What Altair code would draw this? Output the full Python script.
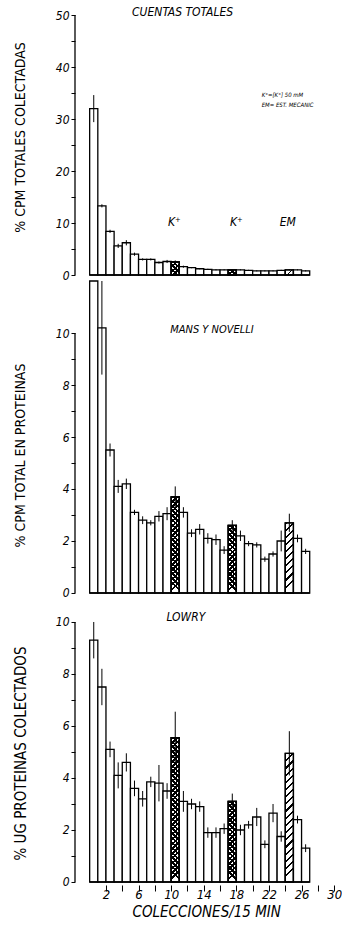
import altair as alt
import pandas as pd

# ---------------- data ----------------
collections = list(range(1, 28))

top_vals = [32.0, 13.3, 8.4, 5.6, 6.2, 4.0, 3.0, 3.0, 2.4, 2.6, 2.5, 1.6, 1.4, 1.2,
            1.1, 1.0, 1.0, 1.0, 1.0, 0.9, 0.8, 0.8, 0.8, 0.9, 1.0, 1.0, 0.8]
top_err = [2.6, 0.3, 0.3, 0.4, 0.5, 0.3, 0.2, 0.2, 0.2, 0.3, 0.3, 0.2, 0.1, 0.1,
           0.1, 0.1, 0.1, 0.1, 0.1, 0.1, 0.1, 0.1, 0.1, 0.1, 0.1, 0.1, 0.1]

mid_vals = [12.0, 10.2, 5.5, 4.1, 4.2, 3.1, 2.8, 2.7, 2.95, 3.05, 3.7, 3.1, 2.3, 2.45,
            2.1, 2.05, 1.65, 2.6, 2.2, 1.9, 1.85, 1.3, 1.5, 2.0, 2.7, 2.1, 1.6]
mid_err = [0.0, 1.8, 0.25, 0.25, 0.2, 0.1, 0.15, 0.1, 0.2, 0.25, 0.4, 0.2, 0.15, 0.2,
           0.2, 0.2, 0.15, 0.2, 0.2, 0.1, 0.1, 0.1, 0.1, 0.4, 0.35, 0.15, 0.1]

bot_vals = [9.3, 7.5, 5.1, 4.1, 4.6, 3.6, 3.2, 3.85, 3.8, 3.5, 5.55, 3.1, 3.0, 2.9,
            1.9, 1.9, 2.05, 3.1, 2.0, 2.2, 2.5, 1.45, 2.65, 1.75, 4.95, 2.4, 1.3]
bot_err = [0.7, 0.7, 0.3, 0.5, 0.35, 0.3, 0.3, 0.2, 0.7, 0.3, 1.0, 0.4, 0.2, 0.2,
           0.2, 0.2, 0.2, 0.3, 0.2, 0.15, 0.35, 0.15, 0.35, 0.2, 0.85, 0.15, 0.15]

k_bars = [11, 18]      # K+ 50 mM (cross-hatched)
em_bar = [25]          # estimulo mecanico (striped)

top_ticks = [0, 5, 10, 15, 20, 25, 30, 35, 40, 45, 50]
prot_ticks = [0, 1, 2, 3, 4, 5, 6, 7, 8, 9, 10]
x_ticks = [2, 4, 6, 8, 10, 12, 14, 16, 18, 20, 22, 24, 26, 28, 30]

# ---------------- layout / style ----------------
FONT = "Liberation Sans Narrow, DejaVu Sans Condensed, Liberation Sans, sans-serif"
X_DOMAIN = [-1.8, 30.4]
X_PPU = 8.15
PLOT_W = (X_DOMAIN[1] - X_DOMAIN[0]) * X_PPU


def hatch(w, h, direction, period, duty):
    r = w / h
    n = max(2, round(h * (1 + r * r) / (period * 2 ** 0.5)))
    clear = "rgba(255,255,255,0)"
    stops = []
    for i in range(n):
        a, b, e = i / n, (i + duty) / n, (i + 1) / n
        stops += [{"offset": a, "color": "#000000"}, {"offset": b, "color": "#000000"},
                  {"offset": b, "color": clear}, {"offset": e, "color": clear}]
    if direction == "/":
        x1, y1, x2, y2 = 0, 0, r, 1
    else:
        x1, y1, x2, y2 = 1, 0, 1 - r, 1
    return {"gradient": "linear", "x1": x1, "y1": y1, "x2": x2, "y2": y2, "stops": stops}


def panel(vals, errs, height, ppu, ticks, major, ytitle, title_y, title_size,
          texts, show_x=False):
    df = pd.DataFrame({"c": collections, "v": vals, "e": errs})
    df["left"] = df.c - 1
    df["right"] = df.c
    df["mid"] = df.c - 0.5
    df["lo"] = df.v - df.e
    df["hi"] = df.v + df.e

    xscale = alt.Scale(domain=X_DOMAIN, nice=False, zero=False)
    yscale = alt.Scale(domain=[0, height / ppu], nice=False, zero=True)
    if show_x:
        xaxis = alt.Axis(values=x_ticks, labelExpr="(datum.value - 2) % 4 === 0 ? datum.label : ''",
                         domain=False, grid=False, tickSize=6, tickColor="black", offset=3,
                         labelPadding=-2, labelFont=FONT, labelFontSize=13, labelFontStyle="italic",
                         labelColor="black", title="COLECCIONES/15 MIN", titleFont=FONT,
                         titleFontSize=15, titleFontStyle="italic", titleFontWeight="normal",
                         titleColor="black", titlePadding=3)
    else:
        xaxis = None
    yaxis = alt.Axis(values=ticks, labelExpr=f"datum.value % {major} === 0 ? datum.label : ''",
                     domain=False, grid=False, tickSize=4, tickColor="black",
                     labelFont=FONT, labelFontSize=12, labelFontStyle="italic",
                     labelColor="black", labelPadding=2,
                     title=ytitle, titleX=-54, titleY=title_y, titleAngle=270,
                     titleAlign="center", titleBaseline="middle", titleFont=FONT,
                     titleFontSize=title_size, titleFontWeight="normal", titleColor="black")

    def X(f):
        return alt.X(f, type="quantitative", scale=xscale, axis=xaxis)

    def Y(f):
        return alt.Y(f, type="quantitative", scale=yscale, axis=yaxis)

    base = alt.Chart(df)
    layers = [base.mark_rect(fill="white", stroke="black", strokeWidth=1.3).encode(
        x=X("left"), x2="right", y=Y("v"), y2=alt.datum(0))]

    bw = X_PPU
    for k in k_bars:
        h = max(vals[k - 1] * ppu, 2)
        for d in ["/", "\\"]:
            layers.append(base.transform_filter(alt.datum.c == k).mark_rect(
                fill=hatch(bw, h, d, 3.4, 0.5), stroke="black", strokeWidth=1.3).encode(
                x=X("left"), x2="right", y=Y("v"), y2=alt.datum(0)))
    for k in em_bar:
        h = max(vals[k - 1] * ppu, 2)
        layers.append(base.transform_filter(alt.datum.c == k).mark_rect(
            fill=hatch(bw, h, "/", 5.0, 0.3), stroke="black", strokeWidth=1.3).encode(
            x=X("left"), x2="right", y=Y("v"), y2=alt.datum(0)))

    layers.append(base.transform_filter(alt.datum.e > 0).mark_rule(
        color="black", strokeWidth=1).encode(x=X("mid"), y=Y("lo"), y2="hi"))

    # axis line (0 to top tick) and baseline under the bars
    yl = pd.DataFrame({"a": [min(ticks)], "b": [max(ticks)]})
    layers.append(alt.Chart(yl).mark_rule(color="black", strokeWidth=1.3).encode(
        x=alt.value(0), y=Y("a"), y2="b"))
    bl = pd.DataFrame({"a": [min(collections) - 1], "b": [max(collections)], "y": [0]})
    layers.append(alt.Chart(bl).mark_rule(color="black", strokeWidth=1.5).encode(
        x=X("a"), x2="b", y=Y("y")))

    for (tx, ty, tt, fs, al) in texts:
        tdf = pd.DataFrame({"x": [tx], "y": [ty], "t": [tt]})
        layers.append(alt.Chart(tdf).mark_text(
            font=FONT, fontSize=fs, fontStyle="italic", color="black", align=al,
            baseline="middle").encode(x=X("x"), y=Y("y"), text="t:N"))

    return alt.layer(*layers).properties(width=PLOT_W, height=height)


top = panel(top_vals, top_err, 275, 5.2, top_ticks, 10, "% CPM TOTALES COLECTADAS", 137, 14,
            [(11.4, 50.6, "CUENTAS   TOTALES", 12, "center"),
             (10.4, 10.2, "K⁺", 12, "center"),
             (18.0, 10.2, "K⁺", 12, "center"),
             (24.3, 10.2, "EM", 12, "center"),
             (21.1, 34.6, "K⁺=[K⁺] 50 mM", 6, "left"),
             (21.1, 32.6, "EM= EST. MECANIC", 6, "left")])
mid = panel(mid_vals, mid_err, 318, 26.0, prot_ticks, 2, "% CPM TOTAL EN PROTEINAS", 180, 14,
            [(15.0, 10.1, "MANS Y NOVELLI", 11, "center")])
bot = panel(bot_vals, bot_err, 289, 26.0, prot_ticks, 2, "% UG PROTEINAS COLECTADOS", 160, 15,
            [(11.8, 10.2, "LOWRY", 12, "center")], show_x=True)

chart = alt.vconcat(top, mid, bot, spacing=0, bounds="flush").properties(
    padding={"left": 14, "top": 0, "right": 0, "bottom": 0},
    background="white",
).configure_view(stroke=None)

chart.save("out.html", embed_options={"renderer": "svg", "actions": False})
